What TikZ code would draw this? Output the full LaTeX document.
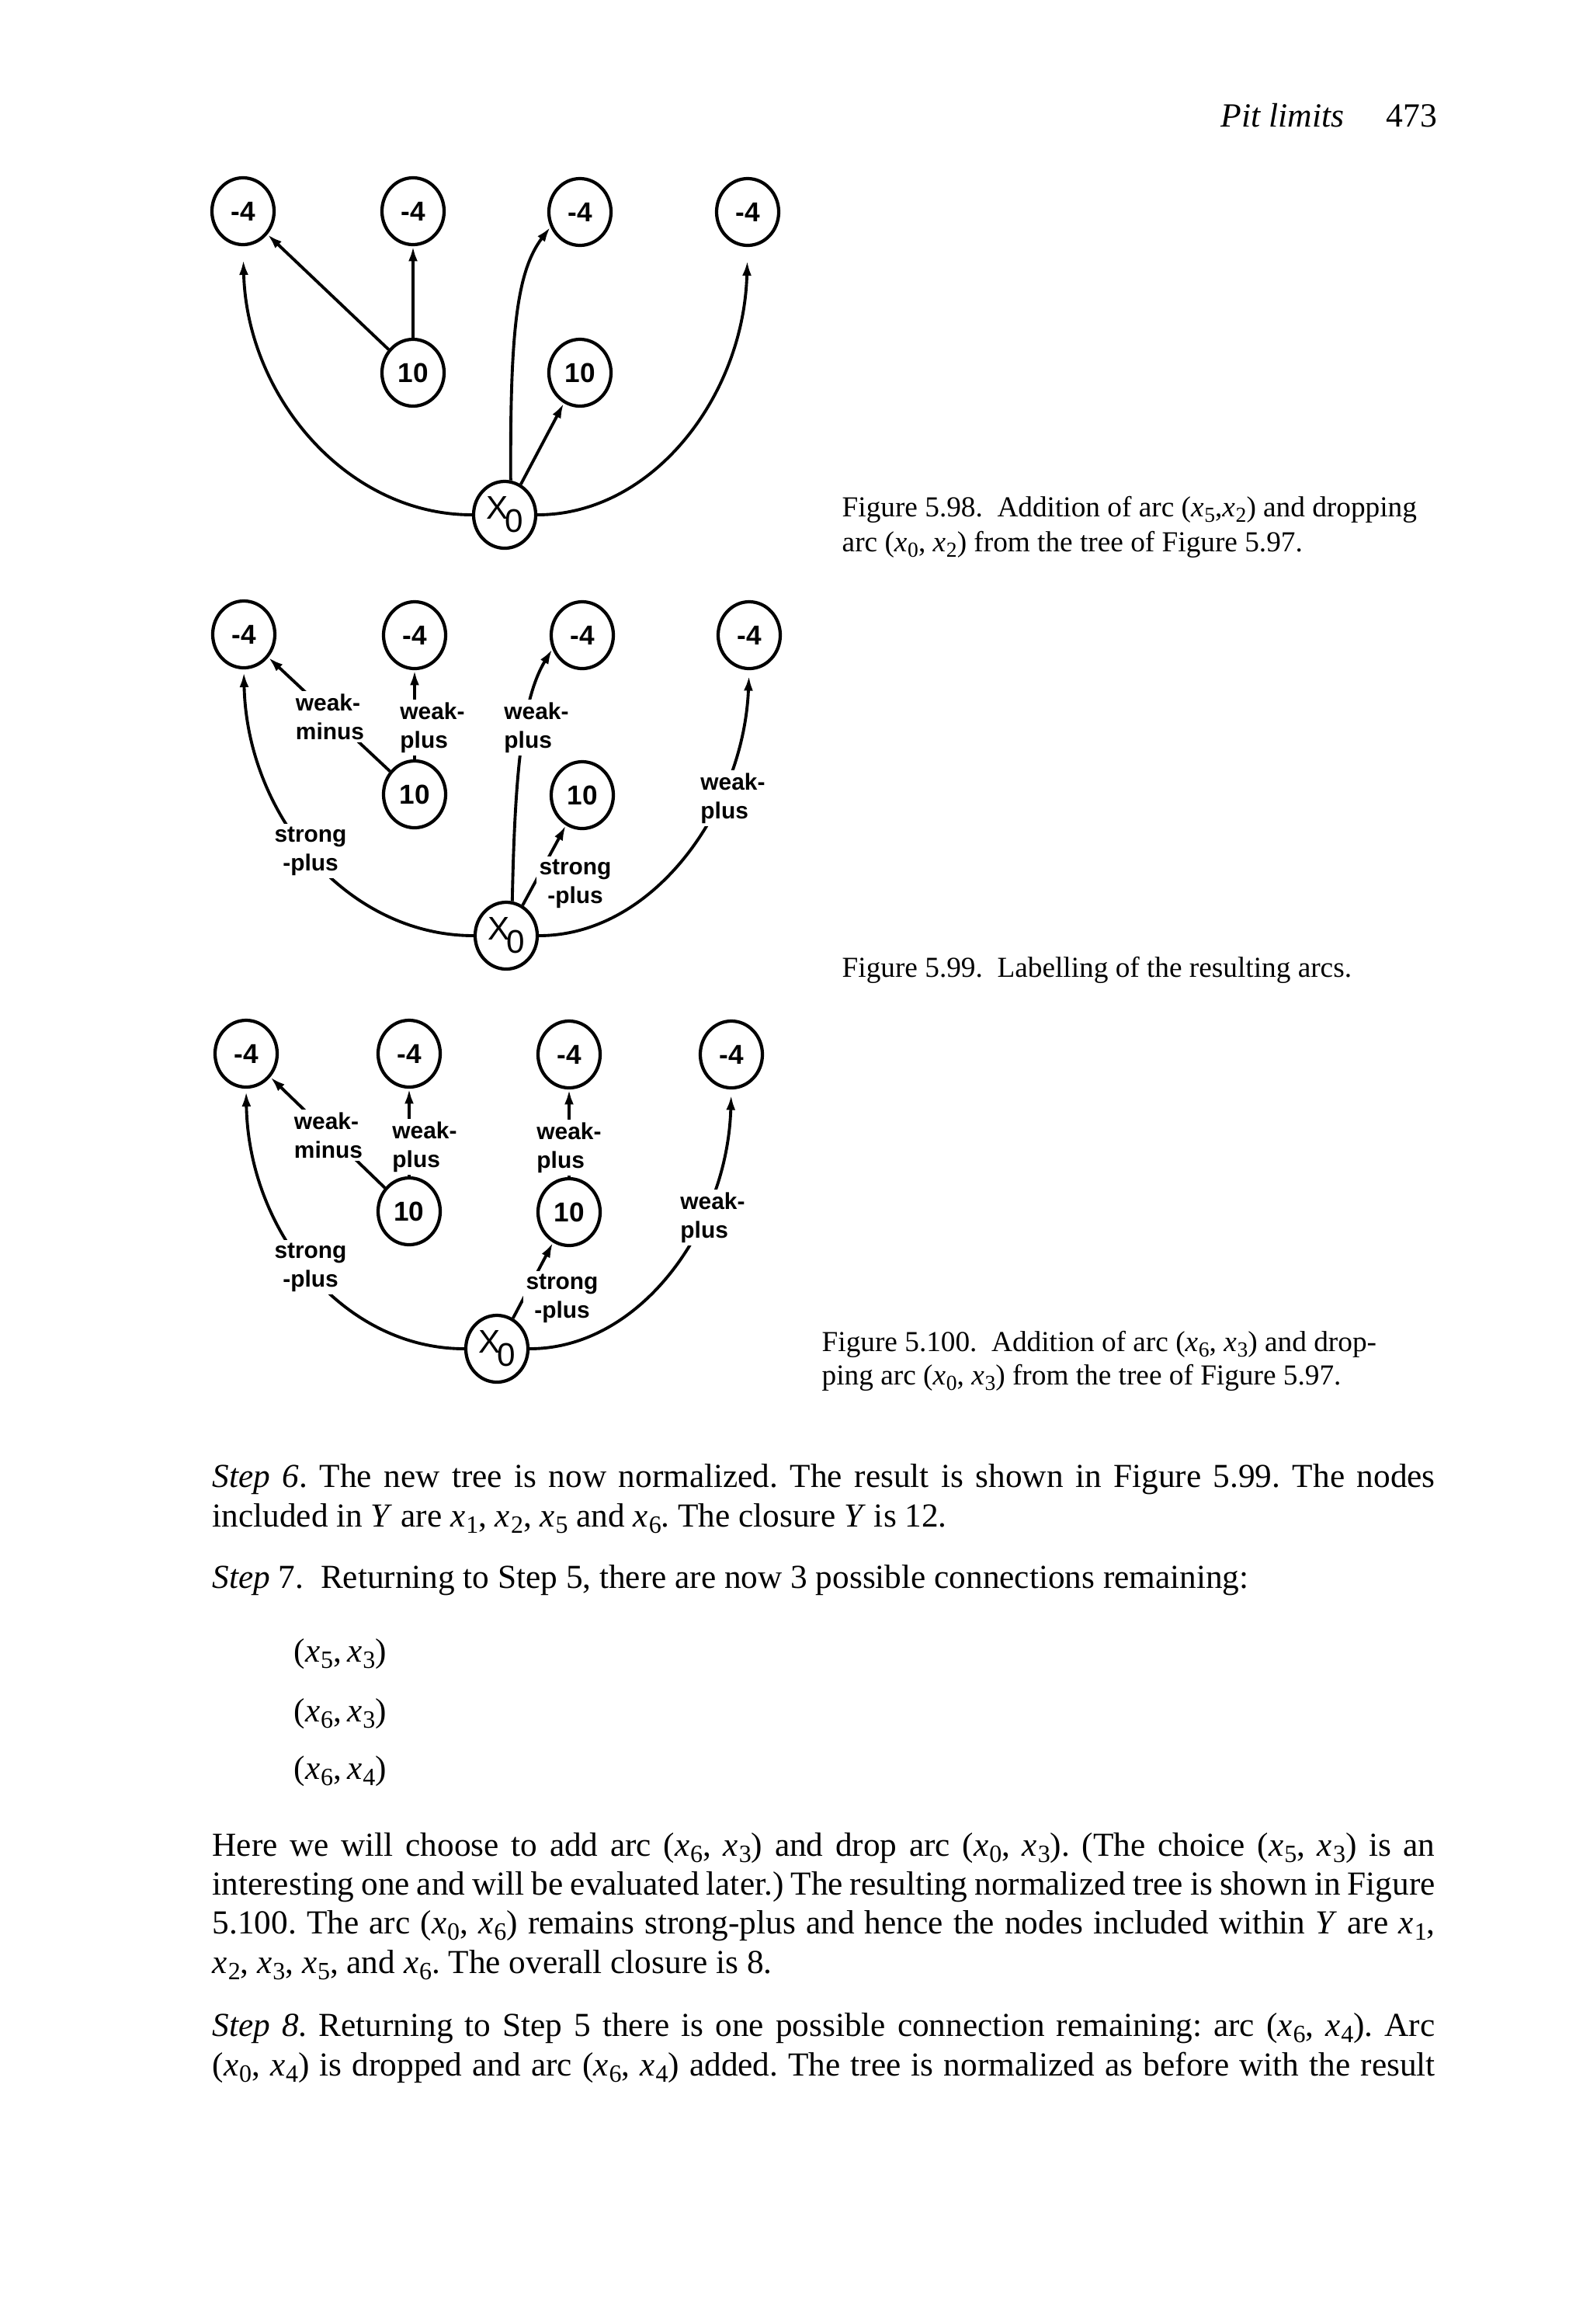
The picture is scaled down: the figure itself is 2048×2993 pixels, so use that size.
\documentclass[tikz,border=0pt]{standalone}
\usepackage{fontspec}
\setmainfont{Liberation Serif}
\newfontfamily\dsans{Liberation Sans}
\usetikzlibrary{arrows.meta,shapes.geometric}
\newcommand\xx[1]{\textit{x}\kern0.02em\raisebox{-0.2em}{\scalebox{0.74}{#1}}}
\newcommand\xo{X\kern-0.1em\raisebox{-0.4em}{0}}
\frenchspacing
\tikzset{
 vert/.style={ellipse, draw, line width=1.2pt, minimum width=0.8cm, minimum height=0.86cm, inner sep=0pt, font=\dsans\bfseries\fontsize{10pt}{10pt}\selectfont},
 root/.style={vert, font=\dsans\fontsize{12pt}{12pt}\selectfont},
 arc/.style={line width=1.1pt, -{Latex[length=5.5pt,width=3.4pt]}},
 lbl/.style={fill=white, inner sep=1pt, font=\dsans\bfseries\fontsize{8.5pt}{10.5pt}\selectfont, align=left},
 lblc/.style={lbl, align=center},
 body/.style={anchor=base west, inner sep=0pt, font=\fontsize{12.3pt}{14.6pt}\selectfont},
 capt/.style={anchor=base west, inner sep=0pt, font=\fontsize{10.6pt}{12.5pt}\selectfont},
}
\begin{document}
\begin{tikzpicture}[x=0.01cm,y=-0.01cm]
\fill[white] (0,0) rectangle (2048,2993);
\path[use as bounding box] (0,0) rectangle (2048,2993);

% header
\node[anchor=base west, inner sep=0pt, font=\fontsize{12.4pt}{14pt}\selectfont\itshape] (hd) at (1572,163) {Pit limits};
\node[anchor=base west, inner sep=0pt, font=\fontsize{12.4pt}{14pt}\selectfont] (pg) at (1785,163) {473};

% ---------- Figure 5.98 ----------
\node[vert] (a1a) at (313,272) {-4};
\node[vert] (a2a) at (532,272) {-4};
\node[vert] (a3a) at (747,273) {-4};
\node[vert] (a4a) at (963,273) {-4};
\node[vert] (b1a) at (532,480) {10};
\node[vert] (b2a) at (747,480) {10};
\node[root] (x0a) at (650,663) {\xo};
\draw[arc, shorten >=5pt] (x0a.west) .. controls (446,663) and (318,510) .. (a1a.south);
\draw[arc, shorten >=5pt] (x0a.east) .. controls (841,663) and (958,510) .. (a4a.south);
\draw[arc] (x0a.80) .. controls (657,430) and (665,350) .. (a3a.207);
\draw[arc] (x0a) -- (b2a);
\draw[arc] (b1a) -- (a1a);
\draw[arc] (b1a) -- (a2a);

% ---------- Figure 5.99 ----------
\node[vert] (a1b) at (314,817) {-4};
\node[vert] (a2b) at (534,818) {-4};
\node[vert] (a3b) at (750,818) {-4};
\node[vert] (a4b) at (965,818) {-4};
\node[vert] (b1b) at (534,1023) {10};
\node[vert] (b2b) at (750,1024) {10};
\node[root] (x0b) at (652,1205) {\xo};
\draw[arc, shorten >=1pt] (x0b.west) .. controls (447,1205) and (318,1050) .. (a1b.south);
\draw[arc] (b1b) -- (a1b);
\draw[arc] (b1b) -- (a2b);
\draw[arc] (x0b.80) .. controls (663,1000) and (672,900) .. (a3b.205);
\draw[arc] (x0b) -- (b2b);
\draw[arc, shorten >=2pt] (x0b.east) .. controls (843,1205) and (958,1040) .. (a4b.south);
\node[lblc] (s1b) at (400,1096) {strong\\-plus};
\node[lbl] (m1b) at (425,923) {weak-\\minus};
\node[lbl] (p1b) at (557,937) {weak-\\plus};
\node[lbl] (p2b) at (691,937) {weak-\\plus};
\node[lblc] (s2b) at (741,1138) {strong\\-plus};
\node[lbl] (p3b) at (944,1028) {weak-\\plus};

% ---------- Figure 5.100 ----------
\node[vert] (a1c) at (317,1357) {-4};
\node[vert] (a2c) at (527,1357) {-4};
\node[vert] (a3c) at (733,1358) {-4};
\node[vert] (a4c) at (942,1358) {-4};
\node[vert] (b1c) at (527,1560) {10};
\node[vert] (b2c) at (733,1561) {10};
\node[root] (x0c) at (640,1737) {\xo};
\draw[arc, shorten >=1pt] (x0c.west) .. controls (443,1737) and (320,1587) .. (a1c.south);
\draw[arc] (b1c) -- (a1c);
\draw[arc] (b1c) -- (a2c);
\draw[arc] (b2c) -- (a3c);
\draw[arc] (x0c) -- (b2c);
\draw[arc, shorten >=2pt] (x0c.east) .. controls (825,1737) and (937,1580) .. (a4c.south);
\node[lblc] (s1c) at (400,1632) {strong\\-plus};
\node[lbl] (m1c) at (423,1462) {weak-\\minus};
\node[lbl] (p1c) at (547,1477) {weak-\\plus};
\node[lbl] (p2c) at (733,1478) {weak-\\plus};
\node[lblc] (s2c) at (724,1672) {strong\\-plus};
\node[lbl] (p3c) at (918,1568) {weak-\\plus};

% ---------- captions ----------
\node[capt] (c1a) at (1084,665) {Figure 5.98.\ \ Addition of arc (\xx5,\xx2) and dropping};
\node[capt] (c1b) at (1084,710) {arc (\xx0, \xx2) from the tree of Figure 5.97.};
\node[capt] (c2) at (1084,1258) {Figure 5.99.\ \ Labelling of the resulting arcs.};
\node[capt] (c3a) at (1058,1740) {Figure 5.100.\ \ Addition of arc (\xx6, \xx3) and drop-};
\node[capt] (c3b) at (1058,1783) {ping arc (\xx0, \xx3) from the tree of Figure 5.97.};

% ---------- body text ----------
\node[body] (t1) at (273,1915) {\makebox[15.74cm][s]{\textit{Step 6}. The new tree is now normalized. The result is shown in Figure 5.99. The nodes}};
\node[body] (t2) at (273,1966) {included in \textit{Y} are \xx1, \xx2, \xx5 and \xx6. The closure \textit{Y} is 12.};
\node[body] (t3) at (273,2045) {\textit{Step} 7.\ \ Returning to Step 5, there are now 3 possible connections remaining:};
\node[body] (e1) at (378,2140) {(\xx5,\,\xx3)};
\node[body] (e2) at (378,2217) {(\xx6,\,\xx3)};
\node[body] (e3) at (378,2291) {(\xx6,\,\xx4)};
\node[body] (t4) at (273,2390) {\makebox[15.74cm][s]{Here we will choose to add arc (\xx6, \xx3) and drop arc (\xx0, \xx3). (The choice (\xx5, \xx3) is an}};
\node[body] (t5) at (273,2440) {\makebox[15.74cm][s]{interesting one and will be evaluated later.) The resulting normalized tree is shown in Figure}};
\node[body] (t6) at (273,2490) {\makebox[15.74cm][s]{5.100. The arc (\xx0, \xx6) remains strong-plus and hence the nodes included within \textit{Y} are \xx1,}};
\node[body] (t7) at (273,2541) {\xx2, \xx3, \xx5, and \xx6. The overall closure is 8.};
\node[body] (t8) at (273,2622) {\makebox[15.74cm][s]{\textit{Step 8}. Returning to Step 5 there is one possible connection remaining: arc (\xx6, \xx4). Arc}};
\node[body] (t9) at (273,2673) {\makebox[15.74cm][s]{(\xx0, \xx4) is dropped and arc (\xx6, \xx4) added. The tree is normalized as before with the result}};
\end{tikzpicture}
\end{document}
